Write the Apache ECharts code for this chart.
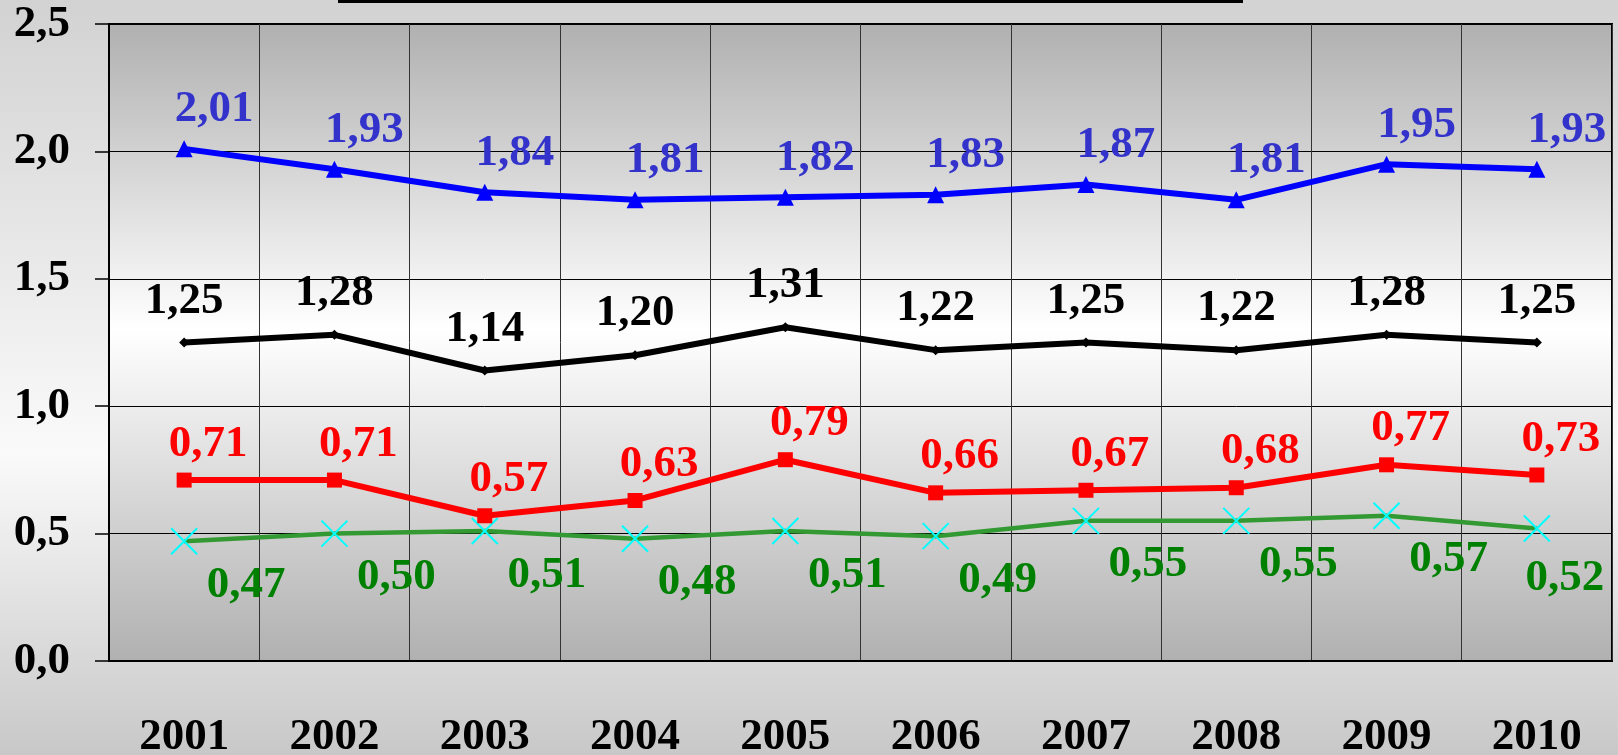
<!DOCTYPE html>
<html>
<head>
<meta charset="utf-8">
<script src="https://cdn.jsdelivr.net/npm/echarts@6/dist/echarts.min.js"></script>
<style>
  html, body { margin: 0; padding: 0; }
  #chart { width: 1618px; height: 755px; }
</style>
</head>
<body>
<div id="chart"></div>
<script>
const years = ['2001', '2002', '2003', '2004', '2005', '2006', '2007', '2008', '2009', '2010']
const blueValues = [2.01, 1.93, 1.84, 1.81, 1.82, 1.83, 1.87, 1.81, 1.95, 1.93]
const blackValues = [1.25, 1.28, 1.14, 1.20, 1.31, 1.22, 1.25, 1.22, 1.28, 1.25]
const redValues = [0.71, 0.71, 0.57, 0.63, 0.79, 0.66, 0.67, 0.68, 0.77, 0.73]
const greenValues = [0.47, 0.50, 0.51, 0.48, 0.51, 0.49, 0.55, 0.55, 0.57, 0.52]

const font = "'Liberation Serif', 'Times New Roman', serif"
const comma2 = p => p.value.toFixed(2).replace('.', ',')

const chart = echarts.init(document.getElementById('chart'))

// label style shared by all series
function lbl(color, position, offset) {
  return {
    show: true,
    position: position,
    distance: 4,
    offset: offset,
    color: color,
    fontFamily: font,
    fontWeight: 'bold',
    fontSize: 45,
    formatter: comma2
  }
}

// last green label sits closer to its point so it stays inside the frame
const greenData = greenValues.map((v, i) =>
  i === greenValues.length - 1 ? { value: v, label: { offset: [28, 8] } } : v)

const option = {
  animation: false,
  backgroundColor: {
    type: 'linear', x: 0, y: 0, x2: 0, y2: 1,
    colorStops: [
      { offset: 0, color: '#d2d2d2' },
      { offset: 0.6, color: '#fafafa' },
      { offset: 1, color: '#c8c8c8' }
    ]
  },
  graphic: [
    { type: 'rect', left: 338, top: 0, shape: { width: 905, height: 3 }, style: { fill: '#000' } }
  ],
  grid: {
    left: 109, top: 24, right: 6, bottom: 94,
    outerBoundsMode: 'none',
    show: true,
    borderColor: '#000',
    borderWidth: 2,
    backgroundColor: {
      type: 'linear', x: 0, y: 0, x2: 0, y2: 1,
      colorStops: [
        { offset: 0, color: '#b0b0b0' },
        { offset: 0.48, color: '#ffffff' },
        { offset: 1, color: '#b0b0b0' }
      ]
    }
  },
  xAxis: {
    type: 'category',
    data: years,
    boundaryGap: true,
    axisLine: { lineStyle: { color: '#000', width: 2 } },
    axisTick: { show: false },
    splitLine: { show: true, lineStyle: { color: '#333', width: 1 } },
    axisLabel: {
      color: '#000', fontFamily: font, fontWeight: 'bold', fontSize: 45, margin: 54
    }
  },
  yAxis: {
    type: 'value',
    min: 0, max: 2.5, interval: 0.5,
    axisLine: { show: true, lineStyle: { color: '#000', width: 2 } },
    axisTick: { show: true, inside: false, length: 14, lineStyle: { color: '#000', width: 1.5 } },
    splitLine: { show: true, lineStyle: { color: '#000', width: 1 } },
    axisLabel: {
      color: '#000', fontFamily: font, fontWeight: 'bold', fontSize: 45, margin: 39,
      padding: [8, 0, 0, 0],
      formatter: v => v.toFixed(1).replace('.', ',')
    }
  },
  series: [
    {
      type: 'line',
      data: blueValues,
      symbol: 'triangle',
      symbolSize: 17,
      lineStyle: { color: '#0000ff', width: 6 },
      itemStyle: { color: '#0000ff' },
      label: lbl('#3333cc', 'top', [30, -4]),
      z: 4
    },
    {
      type: 'line',
      data: blackValues,
      symbol: 'diamond',
      symbolSize: 10,
      lineStyle: { color: '#000', width: 6 },
      itemStyle: { color: '#000' },
      label: lbl('#000', 'top', [0, -10]),
      z: 3
    },
    {
      type: 'line',
      data: redValues,
      symbol: 'rect',
      symbolSize: 15,
      lineStyle: { color: '#ff0000', width: 6 },
      itemStyle: { color: '#ff0000' },
      label: lbl('#ff0000', 'top', [24, -2]),
      z: 3
    },
    {
      type: 'line',
      data: greenData,
      symbol: 'path://M0,0L10,10M10,0L0,10',
      symbolSize: 26,
      lineStyle: { color: '#339933', width: 4.5 },
      itemStyle: { color: 'none', borderColor: '#00ffff', borderWidth: 2 },
      label: lbl('#008000', 'bottom', [62, 2]),
      z: 2
    }
  ]
}

chart.setOption(option)
window.addEventListener('resize', () => chart.resize())
</script>
</body>
</html>
